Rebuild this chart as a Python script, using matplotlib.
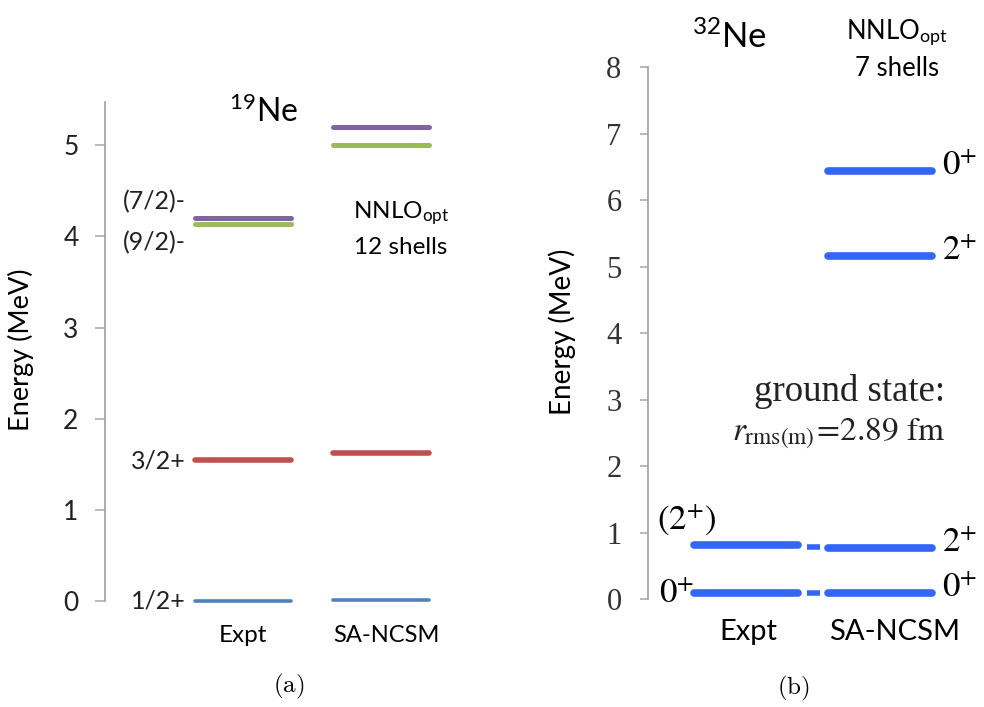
import numpy as np
import matplotlib
matplotlib.use("Agg")
import matplotlib.pyplot as plt

plt.rcParams['mathtext.fontset'] = 'custom'
plt.rcParams['mathtext.rm'] = 'Lato'
plt.rcParams['mathtext.it'] = 'Lato:italic'
plt.rcParams['mathtext.bf'] = 'Lato:bold'

# ---- data: 19Ne (panel a)
ne19_labels = ['1/2+', '3/2+', '(9/2)-', '(7/2)-']
ne19_expt = [0.0, 1.54, 4.14, 4.20]
ne19_ncsm = [0.01, 1.62, 5.00, 5.20]
ne19_colors = ['#4f81bd', '#c0504d', '#9bbb59', '#8064a2']
ne19_widths = [2.6, 4.0, 3.6, 3.6]
ne19_ticks = [0, 1, 2, 3, 4, 5]

# ---- data: 32Ne (panel b)
ne32_expt = [0.09, 0.81]
ne32_expt_labels = ['$0^{+}$', '$(2^{+})$']
ne32_ncsm = [0.09, 0.77, 5.16, 6.44]
ne32_ncsm_labels = ['$0^{+}$', '$2^{+}$', '$2^{+}$', '$0^{+}$']
ne32_ticks = [0, 1, 2, 3, 4, 5, 6, 7, 8]

W, H = 984, 707
fig = plt.figure(figsize=(W / 100, H / 100), dpi=100)


def fx(px):
    return px / W


def fy(py):
    return 1 - py / H


# ---------------- panel (a)
axa = fig.add_axes([fx(105), fy(600.7), fx(380), (600.7 - 101.7) / H])
axa.set_ylim(0, 5.48)
axa.set_xlim(-0.996, 1.748)
hw = 0.347
for e, c, lw in zip(ne19_expt, ne19_colors, ne19_widths):
    axa.plot([-hw, hw], [e, e], color=c, lw=lw, solid_capstyle='round', clip_on=False)
for e, c, lw in zip(ne19_ncsm, ne19_colors, ne19_widths):
    axa.plot([1 - hw, 1 + hw], [e, e], color=c, lw=lw, solid_capstyle='round', clip_on=False)

lab_y = [0.0, 1.535, 3.93, 4.38]
for lab, y in zip(ne19_labels, lab_y):
    axa.text(-0.415, y, lab, ha='right', va='center', fontsize=18, family='Lato', color='#222222')

for s in ['top', 'right', 'bottom']:
    axa.spines[s].set_visible(False)
axa.spines['left'].set_color('#a6a6a6')
axa.spines['left'].set_linewidth(1.3)
axa.set_xticks([])
axa.set_yticks(ne19_ticks)
axa.tick_params(axis='y', length=7, width=1.1, color='#a6a6a6', pad=12, labelsize=19)
for t in axa.get_yticklabels():
    t.set_family('Lato')
    t.set_color('#222222')

fig.text(fx(21), fy(350), 'Energy (MeV)', rotation=90, ha='center', va='center',
         fontsize=19.5, family='Lato')
fig.text(fx(264), fy(112), '$^{19}$Ne', ha='center', va='center', fontsize=23,
         family='Lato', math_fontfamily='custom')
fig.text(fx(401), fy(213), 'NNLO$_{\\mathrm{opt}}$', ha='center', va='center',
         fontsize=17.5, family='Lato', math_fontfamily='custom')
fig.text(fx(401), fy(247), '12 shells', ha='center', va='center', fontsize=17.5, family='Lato')
fig.text(fx(243), fy(635), 'Expt', ha='center', va='center', fontsize=17.5, family='Lato')
fig.text(fx(386), fy(635), 'SA-NCSM', ha='center', va='center', fontsize=17, family='Lato')
fig.text(fx(289), fy(686), '$\\mathrm{(a)}$', ha='center', va='center', fontsize=18,
         math_fontfamily='cm')

# ---------------- panel (b)
blue = '#3366f5'
axb = fig.add_axes([fx(648), fy(599.3), fx(330), (599.3 - 67) / H])
axb.set_ylim(0, 8)
axb.set_xlim(-0.7286, 1.725)
hwb = 0.3866
for e in ne32_expt:
    axb.plot([-hwb, hwb], [e, e], color=blue, lw=5.5, solid_capstyle='round', clip_on=False)
for e in ne32_ncsm:
    axb.plot([1 - hwb, 1 + hwb], [e, e], color=blue, lw=5.5, solid_capstyle='round', clip_on=False)
# short dash connecting expt and theory levels
for e0, e1 in zip(ne32_expt, ne32_ncsm[:2]):
    em = 0.5 * (e0 + e1)
    axb.plot([0.5 - 0.05, 0.5 + 0.05], [em, em], color=blue, lw=4, solid_capstyle='butt')

axb.text(-0.645, -0.06, ne32_expt_labels[0], ha='left', va='baseline', fontsize=25,
         math_fontfamily='stix')
axb.text(-0.665, 1.05, ne32_expt_labels[1], ha='left', va='baseline', fontsize=25,
         math_fontfamily='stix')
for e, lab in zip(ne32_ncsm, ne32_ncsm_labels):
    axb.text(1.46, e - 0.06, lab, ha='left', va='baseline', fontsize=25,
             math_fontfamily='stix')

for s in ['top', 'right', 'bottom']:
    axb.spines[s].set_visible(False)
axb.spines['left'].set_color('#a6a6a6')
axb.spines['left'].set_linewidth(1.3)
axb.set_xticks([])
axb.set_yticks(ne32_ticks)
axb.tick_params(axis='y', length=6, width=1.1, color='#a6a6a6', pad=13, labelsize=22)
for t in axb.get_yticklabels():
    t.set_family('Liberation Serif')
    t.set_color('#333333')

fig.text(fx(562), fy(332), 'Energy (MeV)', rotation=90, ha='center', va='center',
         fontsize=20, family='Lato')
fig.text(fx(729), fy(37), '$^{32}$Ne', ha='center', va='center', fontsize=25,
         family='Lato', math_fontfamily='custom')
fig.text(fx(897), fy(33), 'NNLO$_{\\mathrm{opt}}$', ha='center', va='center',
         fontsize=18.5, family='Lato', math_fontfamily='custom')
fig.text(fx(897), fy(68), '7 shells', ha='center', va='center', fontsize=18.5, family='Lato')
fig.text(fx(945), fy(401), 'ground state:', ha='right', va='baseline', fontsize=26.5,
         family='Liberation Serif', color='#222222')
fig.text(fx(945), fy(440), '$r_{\\mathrm{rms(m)}}\\!=\\!2.89\\ \\mathrm{fm}$', ha='right',
         va='baseline', fontsize=24, math_fontfamily='stix', color='#222222')
fig.text(fx(748), fy(632), 'Expt', ha='center', va='center', fontsize=21, family='Lato')
fig.text(fx(895), fy(632), 'SA-NCSM', ha='center', va='center', fontsize=21, family='Lato')
fig.text(fx(793), fy(688), '$\\mathrm{(b)}$', ha='center', va='center', fontsize=18,
         math_fontfamily='cm')

fig.savefig('out.png', dpi=100)
